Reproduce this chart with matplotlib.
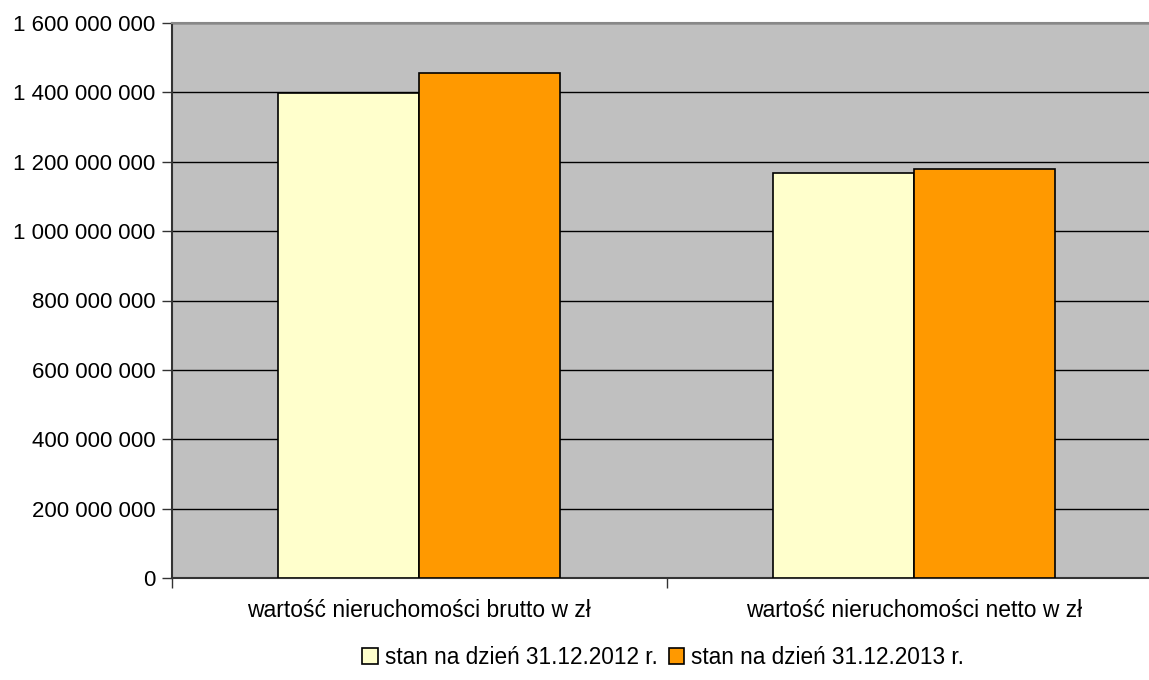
import matplotlib
matplotlib.use("Agg")
import matplotlib.pyplot as plt
import matplotlib.ticker as mticker
import numpy as np

categories = ["wartość nieruchomości brutto w zł", "wartość nieruchomości netto w zł"]
series_names = ["stan na dzień 31.12.2012 r.", "stan na dzień 31.12.2013 r."]
values_2012 = [1_399_000_000, 1_169_000_000]
values_2013 = [1_456_000_000, 1_178_000_000]
colors = ["#FFFFCC", "#FF9900"]

plt.rcParams["font.family"] = ["Liberation Sans", "DejaVu Sans"]

fig = plt.figure(figsize=(11.49, 6.8), dpi=100)
ax = fig.add_axes([172 / 1149, 102 / 680, 989.5 / 1149, 555 / 680])
ax.set_facecolor("#C0C0C0")

x = np.arange(len(categories))
w = 0.285
for i, (vals, c, name) in enumerate(zip([values_2012, values_2013], colors, series_names)):
    ax.bar(x + (i - 0.5) * w, vals, width=w, color=c, edgecolor="black",
           linewidth=1.2, label=name, zorder=3)

ax.set_xlim(-0.5, len(categories) - 0.5)
ax.set_ylim(0, 1_600_000_000)
ax.yaxis.set_major_locator(mticker.MultipleLocator(200_000_000))
ax.yaxis.set_major_formatter(mticker.FuncFormatter(lambda v, p: f"{int(v):,}".replace(",", " ")))
ax.grid(axis="y", color="black", linewidth=1, zorder=1)
ax.set_axisbelow(True)

ax.set_xticks(x)
ax.set_xticklabels(categories)
ax.set_xticks(np.arange(len(categories) + 1) - 0.5, minor=True)
ax.tick_params(axis="x", which="major", length=0, pad=15, labelsize=16.5)
ax.tick_params(axis="x", which="minor", length=7, width=1, color="#333333")
ax.tick_params(axis="y", length=7, width=1, color="#333333", labelsize=16, pad=5)

for s in ["left", "bottom"]:
    ax.spines[s].set_color("#333333")
    ax.spines[s].set_linewidth(1.5)
ax.spines["top"].set_color("#888888")
ax.spines["top"].set_linewidth(1.5)
ax.spines["right"].set_visible(False)

fig.legend(loc="center", bbox_to_anchor=(663 / 1149, 1 - 657 / 680), ncol=2,
           frameon=False, fontsize=16.3, handlelength=0.7, handleheight=0.7,
           handletextpad=0.3, columnspacing=0.5)

fig.savefig("out.png", dpi=100)
